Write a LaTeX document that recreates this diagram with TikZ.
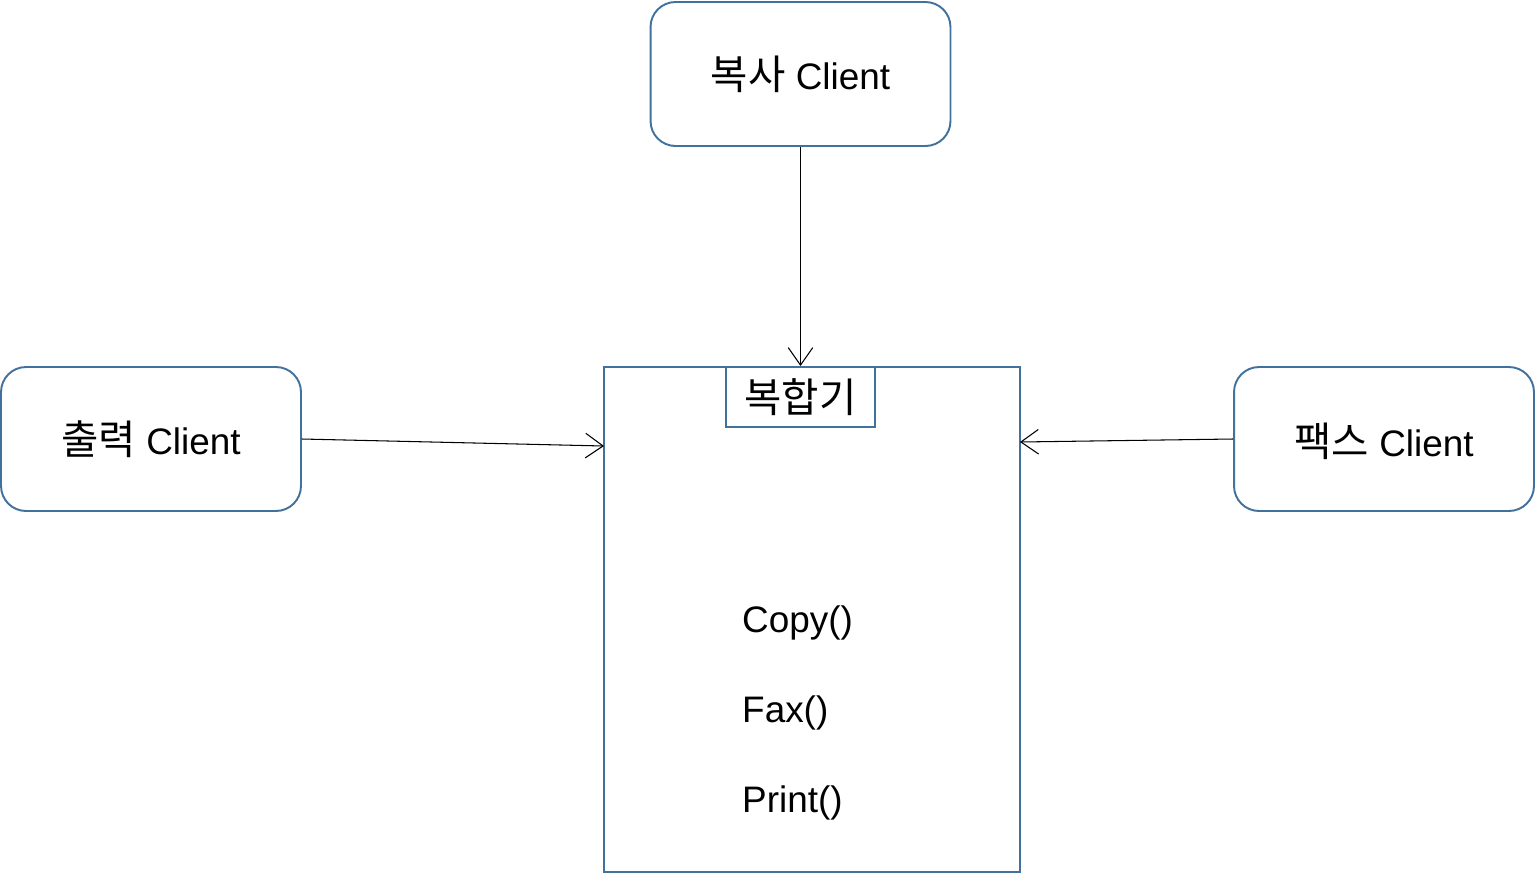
\documentclass[tikz,border=0pt]{standalone}
\usepackage{fontspec}
\setmainfont{Liberation Sans}
\newfontfamily\kr[Scale=1.1]{Noto Sans CJK KR}
\usetikzlibrary{arrows.meta}
\definecolor{boxblue}{RGB}{65,113,156}

\begin{document}
\begin{tikzpicture}[x=0.02cm, y=-0.02cm,
    every node/.style={font=\fontsize{21}{25}\selectfont},
    client/.style={draw=boxblue, line width=1.1pt, rounded corners=0.5cm, minimum width=6cm, minimum height=2.88cm},
    unit/.style={draw=boxblue, line width=1.1pt},
    >={Straight Barb[length=10pt, width=14pt]}]
  \useasboundingbox (0, 0) rectangle (1535, 873);
  % clients
  \node[client] (copyc) at (800.5, 74) {{\kr 복사} Client};
  \node[client] (printc) at (151, 439) {{\kr 출력} Client};
  \node[client, text height=0.9cm, text depth=0.2cm] (faxc) at (1384, 439) {{\kr 팩스} Client};
  % the machine
  \node[unit, minimum width=8.32cm, minimum height=10.1cm] (mfp) at (812, 619.5) {};
  \node[unit, minimum width=2.98cm, minimum height=1.2cm] (mfptab) at (800.5, 397) {\kr 복합기};
  \node[anchor=west] (copyop) at (736, 623) {Copy()};
  \node[anchor=west] (faxop) at (736, 713) {Fax()};
  \node[anchor=west] (printop) at (736, 803) {Print()};
  \coordinate (inleft) at (604, 446);
  \coordinate (inright) at (1020, 442);
  % usage
  \draw[->, line width=0.6pt] (copyc) to (mfptab.north);
  \draw[->, line width=0.6pt] (printc.east) to (inleft);
  \draw[->, line width=0.6pt] (faxc.west) to (inright);
\end{tikzpicture}
\end{document}
